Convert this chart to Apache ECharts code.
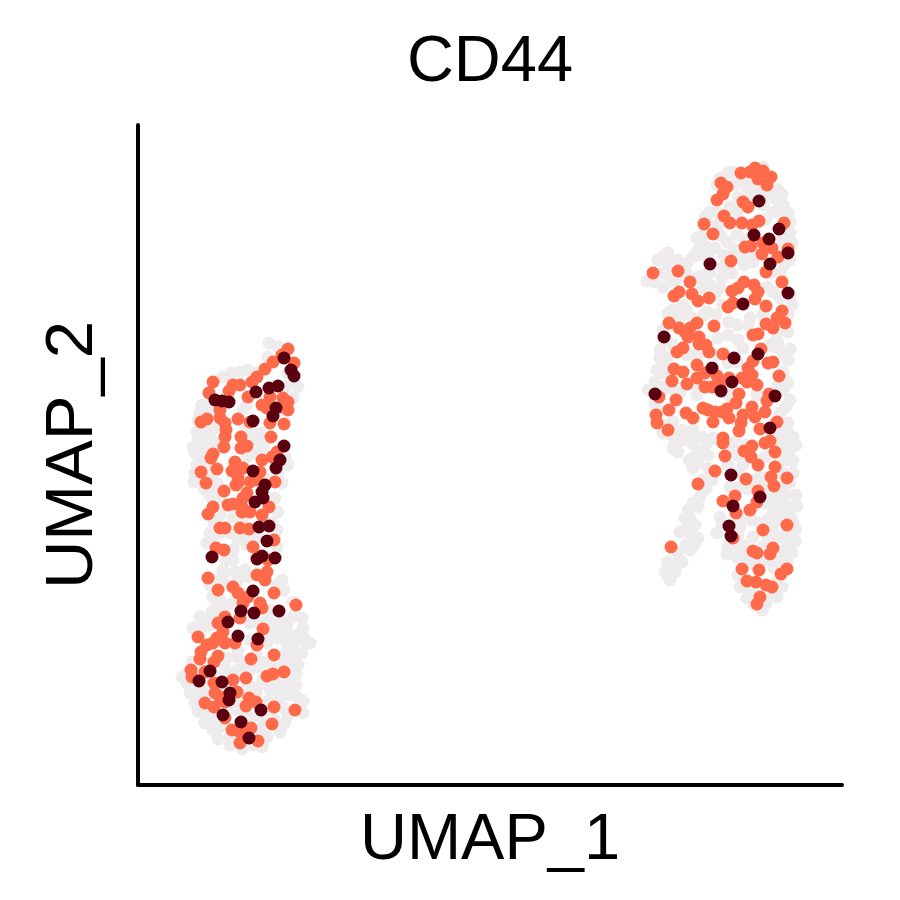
<!DOCTYPE html>
<html><head><meta charset="utf-8">
<script src="https://cdn.jsdelivr.net/npm/echarts@6/dist/echarts.min.js"></script>
<style>html,body{margin:0;background:#fff}#c{width:900px;height:900px}</style></head>
<body><div id="c"></div>
<script>
const chartTitle = "CD44";
const xName = "UMAP_1";
const yName = "UMAP_2";
const lowLeft = [[131,442],[140,438],[130,428],[102,413],[94,412],[85,408],[157,400],[160,398],[70,393],[155,387],[64,380],[69,378],[60,364],[59,353],[67,352],[74,355],[65,342],[55,338],[57,332],[65,330],[77,342],[105,375],[109,380],[115,352],[125,338],[119,345],[147,328],[109,328],[59,320],[57,312],[56,303],[72,307],[79,302],[144,302],[72,290],[75,285],[82,288],[137,287],[140,273],[82,270],[139,255],[84,253],[75,245],[69,242],[92,252],[109,248],[105,268],[95,268],[119,248],[77,240],[95,235],[109,240],[139,238],[95,225],[85,215],[85,210],[97,213],[107,215],[110,208],[72,200],[144,205],[139,200],[79,180],[74,173],[62,168],[67,165],[55,157],[95,182],[132,175],[129,165],[112,162],[139,158],[149,162],[164,167],[155,183],[165,157],[149,153],[160,150],[140,147],[169,142],[164,132],[152,138],[129,142],[112,145],[160,120],[152,122],[145,130],[99,128],[89,127],[125,123],[54,123],[49,102],[52,92],[57,82],[65,72],[67,62],[75,55],[80,46],[92,40],[90,112],[112,115],[152,105],[149,95],[142,88],[159,88],[165,84],[165,72],[147,62],[142,53],[129,48],[115,40],[104,75],[125,65],[119,98],[132,95],[109,98],[75,65],[82,58],[122,55],[145,78],[99,115],[135,118],[119,118],[145,98],[69,102],[65,88],[125,105],[139,102],[149,118],[165,148],[172,142],[132,152],[65,158],[75,188],[82,185],
[110,415],[120,412],[150,412],[148,398],[75,372],[62,372],[78,360],[72,345],[60,345],[68,335],[70,320],[65,312],[62,306],[66,296],[78,296],[126,296],[130,306],[140,312],[150,320],[120,332],[108,358],[122,352],[76,262],[72,252],[127,262],[134,262],[100,245],[120,256],[88,225],[100,205],[90,200],[78,205],[146,195],[86,176],[72,160],[82,172],[140,168],[122,162],[148,142],[156,130],[100,135],[108,120],[118,130],[60,115],[66,122],[44,108],[50,112],[60,94],[68,95],[80,108],[100,85],[118,92],[130,84],[152,90],[158,100],[150,70],[136,66],[124,38],[104,36],[92,48],[70,75],[60,74],[86,120],[74,110],[88,98],[98,76],[114,68],[128,72],[146,120],[158,110],[156,142],[155,168]];
const lowRight = [[590,612],[582,607],[579,600],[625,618],[595,613],[597,600],[609,598],[620,593],[640,595],[637,587],[644,590],[645,580],[650,572],[635,573],[600,588],[572,573],[567,568],[559,547],[560,535],[562,530],[530,532],[524,528],[520,525],[529,523],[549,522],[530,513],[532,504],[509,504],[516,503],[565,510],[572,513],[584,507],[577,537],[589,543],[585,530],[599,550],[605,530],[615,523],[642,512],[635,493],[642,487],[652,552],[652,563],[580,560],[582,550],[599,573],[560,508],[545,480],[535,475],[530,472],[542,467],[555,467],[569,473],[590,463],[599,460],[612,467],[650,453],[639,450],[632,440],[637,438],[605,437],[580,447],[522,427],[527,425],[519,415],[529,427],[579,430],[599,423],[549,430],[517,403],[649,403],[645,413],[629,498],[582,497],[565,497],[577,490],[517,382],[522,375],[535,363],[525,352],[539,352],[545,355],[554,342],[564,335],[535,337],[540,333],[551,325],[555,317],[570,317],[574,305],[569,342],[650,362],[645,355],[650,345],[652,335],[655,324],[642,325],[645,312],[644,295],[645,285],[659,279],[652,278],[655,263],[657,244],[650,242],[654,232],[649,223],[644,198],[639,188],[609,187],[602,198],[624,175],[562,288],[555,282],[550,275],[547,267],[557,260],[542,253],[552,250],[560,247],[552,235],[544,223],[530,223],[527,213],[537,213],[532,205],[582,268],[579,252],[589,231],[602,238],[614,265],[635,272],[642,265],[634,258],[640,248],[602,258],[615,248],[625,238],[612,222],[635,218],[599,228],[630,288],[642,273],[629,265],[627,308],[622,308],[602,298],[615,305],[592,298],[555,355],[564,348],[575,347],[597,343],[599,330],[627,328],[645,338],[642,372],[542,392],[527,398],[559,390],[519,398],[650,402],[640,400],[592,388],[619,390],
[600,605],[612,603],[630,590],[625,580],[612,588],[592,578],[580,572],[572,560],[565,550],[568,538],[555,528],[540,525],[570,528],[596,536],[608,545],[618,530],[632,512],[646,520],[652,525],[654,542],[644,545],[640,575],[628,566],[606,520],[594,512],[572,500],[548,512],[538,505],[524,512],[525,498],[585,518],[652,490],[650,470],[654,480],[640,442],[652,436],[650,425],[645,432],[625,470],[610,460],[585,480],[578,470],[566,470],[548,475],[536,465],[525,455],[528,445],[535,440],[522,435],[530,418],[555,430],[590,450],[600,445],[590,422],[560,430],[525,412],[525,395],[536,395],[510,395],[518,380],[645,395],[652,385],[648,378],[640,348],[650,352],[655,348],[658,340],[648,325],[655,312],[652,302],[648,290],[658,290],[652,268],[648,250],[658,256],[646,234],[645,224],[640,230],[625,225],[610,222],[605,240],[600,250],[607,268],[598,260],[618,280],[628,282],[638,282],[640,292],[625,298],[610,296],[630,248],[622,262],[612,196],[635,190],[628,182],[616,180],[545,345],[552,348],[558,330],[560,322],[565,305],[568,296],[560,278],[552,266],[548,240],[540,232],[534,216],[530,210],[540,222],[548,255],[556,240],[590,238],[584,260],[608,228],[622,222],[640,205],[612,192],[600,210],[638,340],[640,320],[590,335],[580,345],[570,330],[535,348],[528,360],[560,395],[590,395],[608,340],[605,320],[600,312],[590,320],[628,300]];
const midLeft = [[75,403],[71,392],[150,436],[156,422],[144,430],[135,423],[127,416],[119,408],[114,403],[95,400],[102,400],[91,394],[110,388],[124,380],[132,388],[145,387],[150,383],[150,375],[144,378],[129,377],[82,375],[82,367],[63,363],[69,366],[100,366],[112,363],[87,362],[88,355],[87,348],[132,362],[146,361],[133,348],[103,348],[86,338],[109,339],[103,337],[75,331],[73,327],[97,323],[124,325],[134,328],[139,333],[63,313],[79,316],[68,302],[94,314],[105,317],[100,308],[100,302],[98,300],[112,303],[122,313],[119,305],[137,303],[86,294],[109,292],[105,287],[75,278],[70,271],[90,280],[95,281],[104,278],[104,273],[112,273],[124,270],[131,278],[82,257],[87,257],[102,257],[111,256],[136,245],[78,237],[86,235],[115,238],[70,207],[80,195],[95,198],[100,192],[119,210],[127,205],[129,213],[130,225],[136,192],[110,188],[105,182],[122,182],[124,177],[158,180],[102,167],[87,168],[80,162],[125,156],[60,148],[85,153],[79,147],[69,140],[75,142],[87,142],[97,142],[119,140],[63,133],[62,126],[80,129],[76,123],[113,126],[136,130],[53,115],[54,108],[67,113],[76,102],[95,105],[108,107],[129,109],[135,111],[146,113],[77,92],[99,93],[82,88],[67,82],[76,78],[87,83],[111,87],[108,79],[118,83],[136,78],[157,75],[87,67],[134,61],[94,55],[113,57],[102,53],[102,42],[120,44]];
const midRight = [[603,612],[612,613],[617,617],[625,614],[620,606],[633,608],[629,600],[583,602],[589,598],[585,591],[579,585],[605,583],[610,578],[586,569],[592,562],[604,562],[614,560],[621,564],[566,561],[575,551],[646,562],[607,538],[613,539],[625,542],[634,537],[624,531],[640,528],[650,536],[593,524],[628,513],[515,512],[540,514],[552,503],[644,503],[541,493],[536,489],[554,491],[560,484],[571,487],[594,494],[600,497],[606,503],[616,500],[620,493],[617,486],[595,482],[590,478],[628,479],[644,474],[639,467],[647,462],[628,461],[635,457],[531,462],[541,457],[559,462],[552,457],[547,453],[550,448],[576,459],[561,448],[561,441],[568,440],[571,433],[615,450],[620,451],[545,437],[539,433],[585,431],[623,436],[615,424],[635,423],[630,422],[559,420],[536,416],[545,413],[610,417],[641,409],[567,412],[559,407],[579,409],[534,404],[549,401],[591,407],[604,407],[614,410],[567,398],[574,398],[582,400],[609,403],[619,400],[521,388],[538,385],[531,375],[518,370],[519,362],[530,355],[548,372],[555,367],[565,377],[570,375],[577,373],[575,363],[584,373],[589,376],[591,367],[601,391],[598,382],[605,370],[603,362],[601,354],[614,378],[617,368],[627,373],[629,384],[631,391],[622,356],[639,363],[585,347],[585,342],[587,329],[606,334],[614,339],[613,328],[620,320],[627,342],[632,344],[637,333],[637,318],[633,308],[649,307],[636,299],[577,314],[608,306],[560,301],[620,294],[597,289],[585,284],[619,283],[612,275],[598,272],[625,255],[649,260],[595,247],[533,238],[615,234],[619,232],[635,237],[632,231],[604,216],[621,215],[649,216],[643,211],[609,204],[618,203],[628,200],[634,198],[622,188],[619,181]];
const highLeft = [[146,427],[153,415],[156,409],[118,393],[131,397],[140,399],[77,385],[84,384],[91,383],[138,377],[135,369],[115,364],[146,339],[142,325],[138,317],[115,314],[127,300],[124,293],[125,287],[117,283],[121,258],[131,259],[129,244],[74,228],[119,226],[124,229],[137,227],[115,194],[103,174],[116,172],[141,174],[90,163],[100,149],[120,146],[72,114],[61,104],[84,103],[92,92],[91,85],[85,70],[123,75],[103,63],[111,47]];
const highRight = [[621,584],[641,556],[616,550],[631,546],[650,532],[632,521],[572,521],[650,492],[605,481],[526,448],[596,427],[620,431],[574,417],[594,403],[517,391],[583,394],[637,389],[632,357],[593,310],[622,288],[595,279],[591,259],[593,249]];
const chart = echarts.init(document.getElementById('c'), null, {renderer:'canvas'});
const font = 'Liberation Sans';
const axisCommon = {
  type:'value', nameLocation:'middle',
  axisLine:{show:true,onZero:false,lineStyle:{color:'#000',width:4}},
  axisTick:{show:false},axisLabel:{show:false},splitLine:{show:false}
};
const scatter = (data,color,z)=>({type:'scatter',data,symbol:'circle',symbolSize:13,z,
  itemStyle:{color,opacity:1},emphasis:{disabled:true},animation:false,silent:true});
chart.setOption({
  animation:false,backgroundColor:'#fff',
  title:{text:chartTitle,left:485,top:26,textAlign:'center',
    textStyle:{fontFamily:font,fontSize:65,fontWeight:'normal',color:'#000'}},
  grid:{left:138,right:58,top:125,bottom:115,outerBoundsMode:'none',containLabel:false},
  xAxis:{...axisCommon,name:xName,min:0,max:704,nameGap:24,
    nameTextStyle:{fontFamily:font,fontSize:65,color:'#000'}},
  yAxis:{...axisCommon,name:yName,min:0,max:660,nameGap:31,
    nameTextStyle:{fontFamily:font,fontSize:67,color:'#000'}},
  series:[
    scatter(lowLeft.concat(lowRight),'#EDEBEC',1),
    scatter(midLeft.concat(midRight),'#FF6B4A',2),
    scatter(highLeft.concat(highRight),'#5A000F',3)
  ]
});
</script></body></html>
